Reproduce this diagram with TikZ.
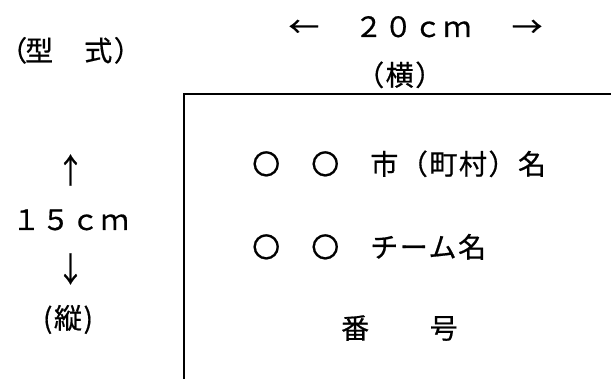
\documentclass[tikz,border=0pt]{standalone}
\usepackage{fontspec}
\usepackage{graphicx}
\setmainfont{Noto Sans CJK JP}
\newfontfamily\jp[LetterSpace=5.5,FakeBold=0.6]{Noto Sans CJK JP}
\newcommand{\harrow}[1]{\makebox[29.5pt][c]{\scalebox{1.1}[1]{#1}}}
\begin{document}
\begin{tikzpicture}[x=1pt,y=-1pt,
  lbl/.style={inner sep=0pt, anchor=base west, font=\jp\fontsize{28}{28}\selectfont},
  clbl/.style={inner sep=0pt, anchor=base, font=\jp\fontsize{28}{28}\selectfont},
  arr/.style={inner sep=0pt, anchor=center, font=\jp\fontsize{28}{28}\selectfont},
  frame/.style={line width=2pt}]
\useasboundingbox (0,0) rectangle (611,379);
% outer frame (open to the right and bottom)
\coordinate (tr) at (612,94.5);
\coordinate (tl) at (184,94.5);
\coordinate (bl) at (184,380);
\draw[frame] (tr) -- (tl) -- (bl);
% headings
\node[lbl] (type) at (-1,61) {（\kern-2pt 型　式）};
\node[lbl] (width) at (289,37) {\harrow{←}\hspace{36pt}２０ｃｍ\hspace{41pt}\harrow{→}};
\node[lbl] (yoko) at (356,85.5) {（横）};
% vertical dimension
\node[arr] (up) at (70.5,170) {\scalebox{1}[1.2]{↑}};
\node[lbl] (height) at (12,230) {１５ｃｍ};
\node[arr] (down) at (70.5,269) {\scalebox{1}[1.2]{↓}};
\node[clbl] (tate) at (68,328.5) {(縦)};
% contents
\node[lbl] (city) at (252,174.5) {〇　〇　市（町村）名};
\node[lbl] (team) at (252,257.5) {〇　〇　チーム名};
\node[lbl] (num) at (341,338.5) {番　　号};
\end{tikzpicture}
\end{document}
